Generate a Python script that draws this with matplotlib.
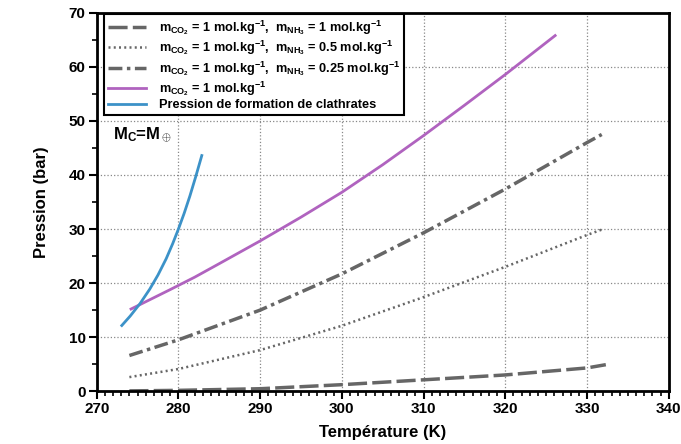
import matplotlib
matplotlib.use('Agg')
import matplotlib.pyplot as plt
from matplotlib.ticker import MultipleLocator

plt.rcParams['font.family'] = ['Liberation Sans', 'DejaVu Sans']
plt.rcParams['font.weight'] = 'bold'
plt.rcParams['mathtext.fontset'] = 'custom'
plt.rcParams['mathtext.rm'] = 'Liberation Sans:bold'
plt.rcParams['mathtext.it'] = 'Liberation Sans:bold'
plt.rcParams['mathtext.bf'] = 'Liberation Sans:bold'
plt.rcParams['mathtext.default'] = 'rm'

# Pression d'equilibre pour differentes molalites
T_nh3_1 = [274, 280, 290, 300, 310, 320, 330, 332.3]
P_nh3_1 = [0.05, 0.15, 0.45, 1.2, 2.1, 3.0, 4.3, 4.9]

T_nh3_05 = [274, 280, 290, 300, 310, 320, 330, 332]
P_nh3_05 = [2.6, 4.1, 7.6, 12.1, 17.4, 23.0, 28.9, 30.0]

T_nh3_025 = [274, 280, 290, 300, 310, 320, 330, 331.8]
P_nh3_025 = [6.6, 9.5, 15.0, 21.7, 29.3, 37.4, 46.0, 47.5]

T_co2 = [274.2, 279, 282, 285, 290, 295, 300, 305, 310, 315, 320, 326.1]
P_co2 = [15.2, 18.8, 21.1, 23.6, 27.8, 32.2, 36.8, 41.9, 47.3, 52.9, 58.6, 65.8]

# Courbe de formation des clathrates
T_clath = [273.07, 274.1, 275.3, 276.5, 277.5, 278.5, 279.3, 280.0,
           280.7, 281.4, 282.1, 282.86]
P_clath = [12.15, 13.9, 16.2, 18.9, 21.5, 24.5, 27.3, 30.0,
           32.9, 36.1, 39.6, 43.6]

labels = [
    r'm$_{CO_2}$ = 1 mol.kg$^{-1}$,  m$_{NH_3}$ = 1 mol.kg$^{-1}$',
    r'm$_{CO_2}$ = 1 mol.kg$^{-1}$,  m$_{NH_3}$ = 0.5 mol.kg$^{-1}$',
    r'm$_{CO_2}$ = 1 mol.kg$^{-1}$,  m$_{NH_3}$ = 0.25 mol.kg$^{-1}$',
    r'm$_{CO_2}$ = 1 mol.kg$^{-1}$',
    'Pression de formation de clathrates',
]

gray = '#666666'
purple = '#b063bf'
blue = '#3c92c8'

fig = plt.figure(figsize=(6.81, 4.44), dpi=100)
ax = fig.add_axes([0.142, 0.119, 0.840, 0.852])

ax.plot(T_nh3_1, P_nh3_1, color=gray, lw=2.5, dashes=(5.5, 1.5), label=labels[0])
ax.plot(T_nh3_05, P_nh3_05, color=gray, lw=1.8, linestyle=(0, (0.8, 1.3)), label=labels[1])
ax.plot(T_nh3_025, P_nh3_025, color=gray, lw=2.5, dashes=(4, 1.3, 1, 1.3), label=labels[2])
ax.plot(T_co2, P_co2, color=purple, lw=2, label=labels[3])
ax.plot(T_clath, P_clath, color=blue, lw=2, label=labels[4])

ax.set_xlim(270, 340)
ax.set_ylim(0, 70)
ax.xaxis.set_major_locator(MultipleLocator(10))
ax.xaxis.set_minor_locator(MultipleLocator(1))
ax.yaxis.set_major_locator(MultipleLocator(10))
ax.yaxis.set_minor_locator(MultipleLocator(5))
ax.tick_params(which='major', direction='out', length=6, width=1.5, labelsize=11, pad=2)
ax.tick_params(which='minor', direction='out', length=3.5, width=1.2)
ax.grid(True, which='major', color='#888888', linestyle=':', linewidth=0.9)

for side in ax.spines.values():
    side.set_linewidth(2)

ax.set_xlabel('Température (K)', fontsize=12, fontweight='bold', labelpad=6)
ax.set_ylabel('Pression (bar)', fontsize=12, fontweight='bold', labelpad=14)

ax.text(272.0, 47.5, r'M$_C$=M$_\oplus$', fontsize=12, fontweight='bold', va='center')

leg = ax.legend(loc='upper left', bbox_to_anchor=(0.013, 0.996),
                prop=dict(family='Liberation Sans', weight='bold', size=9.2),
                frameon=True, fancybox=False, edgecolor='black', framealpha=1,
                handlelength=3.0, borderpad=0.3, labelspacing=0.12,
                handletextpad=1.0, borderaxespad=0)
leg.get_frame().set_linewidth(1.5)

fig.savefig('out.png', dpi=100)
